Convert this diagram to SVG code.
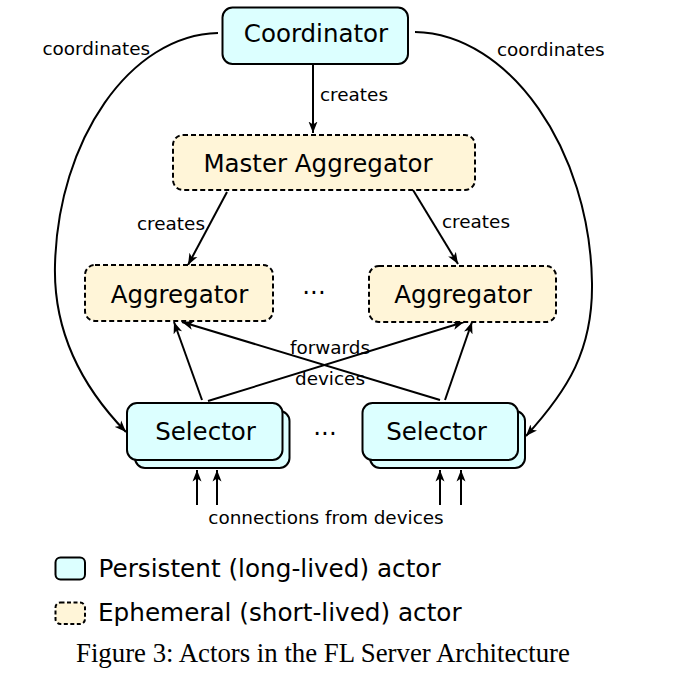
<svg xmlns="http://www.w3.org/2000/svg" width="677" height="678" viewBox="0 0 677 678">
<style>
.p{fill:#dcffff;stroke:#000;stroke-width:2}
.e{fill:#fff5d8;stroke:#000;stroke-width:2;stroke-dasharray:5 3}
.big{font-family:"DejaVu Sans",sans-serif;font-size:24.5px;fill:#000;text-anchor:middle}
.sm{font-family:"DejaVu Sans",sans-serif;font-size:18.4px;fill:#000}
.leg{font-family:"DejaVu Sans",sans-serif;font-size:24.7px;fill:#000}
.cap{font-family:"Liberation Serif","Times New Roman",serif;font-size:26.8px;fill:#000}
.c{fill:none;stroke:#000;stroke-width:2}
</style>
<defs>
<marker id="ah" markerUnits="userSpaceOnUse" markerWidth="12" markerHeight="10" viewBox="0 0 12 10" refX="11.5" refY="5" orient="auto">
<path d="M0,0.5 L11.5,5 L0,9.5 L3,5 z" fill="#000"/>
</marker>
</defs>
<g id="connectors">
<path class="c" d="M218,33 C130,35 58,140 55,265 C53,340 90,395 126,432" marker-end="url(#ah)"/>
<path class="c" d="M415,32 C510,34 590,150 592,283 C593,350 568,390 526,436" marker-end="url(#ah)"/>
<path class="c" d="M313,64 L313,133" marker-end="url(#ah)"/>
<path class="c" d="M227,192 L188,265" marker-end="url(#ah)"/>
<path class="c" d="M413,190 L458,264" marker-end="url(#ah)"/>
<path class="c" d="M202,400 L174,322" marker-end="url(#ah)"/>
<path class="c" d="M208,401 L464,322" marker-end="url(#ah)"/>
<path class="c" d="M440,400 L182,322" marker-end="url(#ah)"/>
<path class="c" d="M445,400 L472,322" marker-end="url(#ah)"/>
<path class="c" d="M197,505 L197,470" marker-end="url(#ah)"/>
<path class="c" d="M217,505 L217,470" marker-end="url(#ah)"/>
<path class="c" d="M440,505 L440,470" marker-end="url(#ah)"/>
<path class="c" d="M461,505 L461,470" marker-end="url(#ah)"/>
<text class="sm" x="42.5" y="55">coordinates</text>
<text class="sm" x="497" y="56">coordinates</text>
<text class="sm" x="320" y="101">creates</text>
<text class="sm" x="137" y="230">creates</text>
<text class="sm" x="442" y="228">creates</text>
<text class="sm" x="330" y="354" text-anchor="middle">forwards</text>
<text class="sm" x="330" y="385" text-anchor="middle">devices</text>
<text class="sm" x="326" y="524" text-anchor="middle">connections from devices</text>
</g>
<g id="coordinator">
<rect class="p" x="222.5" y="7.5" width="185.5" height="56.5" rx="10"/>
<text class="big" x="316" y="42">Coordinator</text>
</g>
<g id="master-aggregator">
<rect class="e" x="173" y="135" width="302" height="55" rx="10"/>
<text class="big" x="318" y="172">Master Aggregator</text>
</g>
<g id="aggregator-left">
<rect class="e" x="85" y="265" width="188" height="56" rx="10"/>
<text class="big" x="179.5" y="302.5">Aggregator</text>
</g>
<g id="aggregator-dots">
<text class="big" x="314" y="301">···</text>
</g>
<g id="aggregator-right">
<rect class="e" x="369" y="266" width="187" height="56" rx="10"/>
<text class="big" x="463" y="303">Aggregator</text>
</g>
<g id="selector-left">
<rect class="p" x="135" y="411" width="154.5" height="57" rx="10"/>
<rect class="p" x="127" y="403" width="155.5" height="57" rx="10"/>
<text class="big" x="205.5" y="440">Selector</text>
</g>
<g id="selector-dots">
<text class="big" x="325" y="442">···</text>
</g>
<g id="selector-right">
<rect class="p" x="370" y="411" width="155" height="57" rx="10"/>
<rect class="p" x="362.5" y="403" width="155.5" height="57" rx="10"/>
<text class="big" x="436.5" y="440">Selector</text>
</g>
<g id="legend">
<rect class="p" x="55.5" y="557.5" width="29.5" height="22" rx="5"/>
<text class="leg" x="98.5" y="576.5">Persistent (long-lived) actor</text>
<rect class="e" x="55.5" y="602.5" width="29.5" height="21.5" rx="5" style="stroke-dasharray:4 2.5"/>
<text class="leg" x="98" y="621.3">Ephemeral (short-lived) actor</text>
</g>
<text class="cap" x="76" y="662">Figure 3: Actors in the FL Server Architecture</text>
</svg>
